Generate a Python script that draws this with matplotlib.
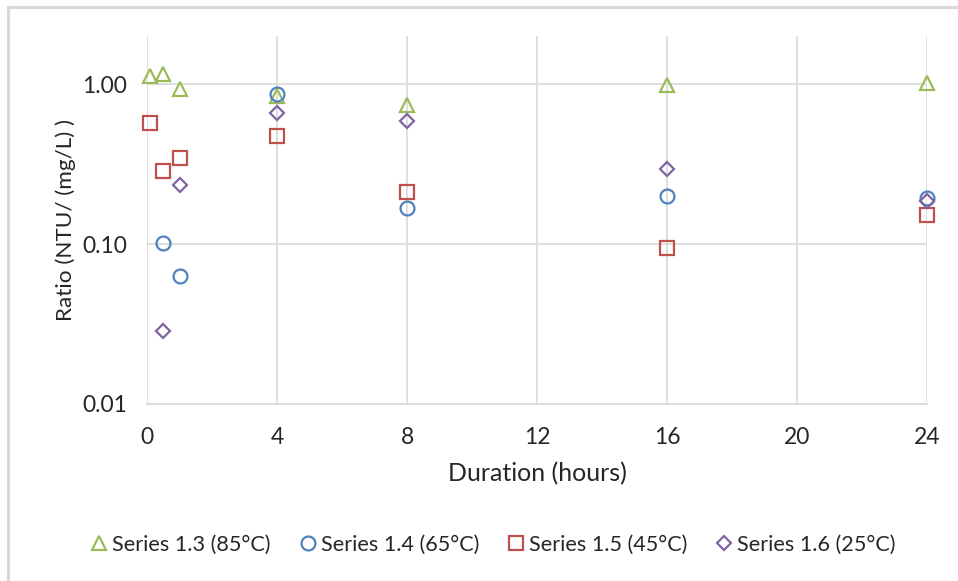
import matplotlib
matplotlib.use("Agg")
import matplotlib.pyplot as plt
from matplotlib.ticker import FixedLocator, FixedFormatter, NullLocator
from matplotlib.patches import Rectangle

plt.rcParams['font.family'] = ['Lato', 'DejaVu Sans']

# Data
hours_85 = [0.1, 0.5, 1, 4, 8, 16, 24]
ratio_85 = [1.13, 1.16, 0.93, 0.84, 0.74, 0.99, 1.01]

hours_65 = [0.5, 1, 4, 8, 16, 24]
ratio_65 = [0.102, 0.063, 0.87, 0.168, 0.20, 0.195]

hours_45 = [0.1, 0.5, 1, 4, 8, 16, 24]
ratio_45 = [0.575, 0.287, 0.345, 0.475, 0.213, 0.095, 0.152]

hours_25 = [0.5, 1, 4, 8, 16, 24]
ratio_25 = [0.0287, 0.234, 0.659, 0.585, 0.293, 0.187]

labels = ["Series 1.3 (85°C)", "Series 1.4 (65°C)", "Series 1.5 (45°C)", "Series 1.6 (25°C)"]
x_ticks = [0, 4, 8, 12, 16, 20, 24]
y_ticks = [0.01, 0.1, 1.0]
y_tick_labels = ["0.01", "0.10", "1.00"]

text_color = '#262626'
grid_color = '#D9D9D9'

fig = plt.figure(figsize=(9.58, 5.81), dpi=100)
fig.patches.append(Rectangle((7.5/958, -0.1), 1.2, 1.1 - 6.5/581, transform=fig.transFigure,
                             fill=False, edgecolor='#D9D9D9', linewidth=2.2, zorder=0))
ax = fig.add_axes([147/958, 1-404/581, (927-147)/958, (404-36)/581])

mk = dict(linestyle='none', markerfacecolor='none', markeredgewidth=1.6, clip_on=False)
ax.plot(hours_85, ratio_85, marker='^', markersize=10, markeredgecolor='#9BBB59', label=labels[0], **mk)
ax.plot(hours_65, ratio_65, marker='o', markersize=10, markeredgecolor='#4F81BD', label=labels[1], **mk)
ax.plot(hours_45, ratio_45, marker='s', markersize=9.5, markeredgecolor='#C0504D', label=labels[2], **mk)
ax.plot(hours_25, ratio_25, marker='D', markersize=7.5, markeredgecolor='#8064A2', label=labels[3], **mk)

ax.set_yscale('log')
ax.set_xlim(0, 24)
ax.set_ylim(0.01, 2)
ax.xaxis.set_major_locator(FixedLocator(x_ticks))
ax.yaxis.set_major_locator(FixedLocator(y_ticks))
ax.yaxis.set_major_formatter(FixedFormatter(y_tick_labels))
ax.yaxis.set_minor_locator(NullLocator())
ax.grid(True, color=grid_color, linewidth=1.2)
ax.set_axisbelow(True)
for s in ['top', 'right', 'left']:
    ax.spines[s].set_visible(False)
ax.spines['bottom'].set_color(grid_color)
ax.spines['bottom'].set_linewidth(1.2)
ax.tick_params(axis='both', length=0, labelsize=16.5, colors=text_color)
ax.tick_params(axis='x', pad=16.5)
ax.tick_params(axis='y', pad=14.5)

ax.set_xlabel("Duration (hours)", fontsize=18, color=text_color, labelpad=10)
ax.set_ylabel("Ratio (NTU/ (mg/L) )", fontsize=16.2, color=text_color, labelpad=4.5)

fig.legend(loc='center', bbox_to_anchor=(492/958, 1-545/581), ncol=4, frameon=False,
           fontsize=15.6, handletextpad=0.1, columnspacing=1.2, handlelength=1.0,
           labelcolor=text_color)

fig.savefig("out.png", dpi=100, facecolor='white')
